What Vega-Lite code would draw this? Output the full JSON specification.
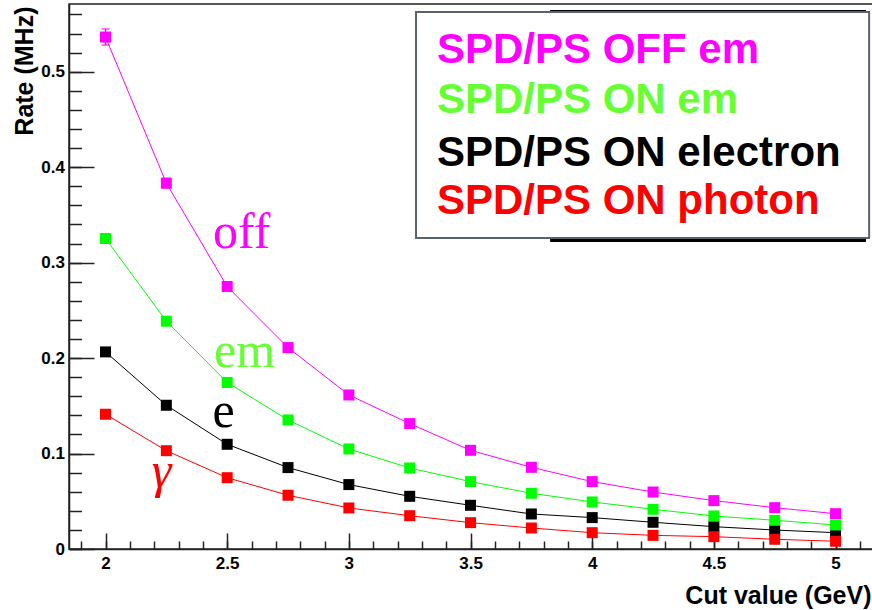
{
  "$schema": "https://vega.github.io/schema/vega-lite/v6.json",
  "width": 805,
  "height": 545,
  "autosize": {"type": "none"},
  "padding": {"left": 69, "top": 4, "right": 0, "bottom": 61},
  "background": "white",
  "config": {
    "view": {"stroke": "#222222", "strokeWidth": 1.5},
    "font": "Liberation Sans",
    "axis": {
      "labelFont": "Liberation Sans",
      "labelFontWeight": "bold",
      "labelFontSize": 17,
      "labelColor": "#000000",
      "titleFont": "Liberation Sans",
      "titleFontWeight": "bold",
      "titleFontSize": 25,
      "titleColor": "#000000",
      "domainColor": "#222222",
      "domainWidth": 1.5,
      "tickColor": "#222222",
      "tickWidth": 1.5,
      "grid": false
    }
  },
  "datasets": {
    "rates": [
      {"series": "SPD/PS ON electron", "cut": 2.0, "rate": 0.2065, "err": 0},
      {"series": "SPD/PS ON electron", "cut": 2.25, "rate": 0.1506, "err": 0},
      {"series": "SPD/PS ON electron", "cut": 2.5, "rate": 0.1097, "err": 0},
      {"series": "SPD/PS ON electron", "cut": 2.75, "rate": 0.0853, "err": 0},
      {"series": "SPD/PS ON electron", "cut": 3.0, "rate": 0.0675, "err": 0},
      {"series": "SPD/PS ON electron", "cut": 3.25, "rate": 0.0552, "err": 0},
      {"series": "SPD/PS ON electron", "cut": 3.5, "rate": 0.0458, "err": 0},
      {"series": "SPD/PS ON electron", "cut": 3.75, "rate": 0.0367, "err": 0},
      {"series": "SPD/PS ON electron", "cut": 4.0, "rate": 0.0329, "err": 0},
      {"series": "SPD/PS ON electron", "cut": 4.25, "rate": 0.028, "err": 0},
      {"series": "SPD/PS ON electron", "cut": 4.5, "rate": 0.0234, "err": 0},
      {"series": "SPD/PS ON electron", "cut": 4.75, "rate": 0.0199, "err": 0},
      {"series": "SPD/PS ON electron", "cut": 5.0, "rate": 0.0171, "err": 0},
      {"series": "SPD/PS ON photon", "cut": 2.0, "rate": 0.1412, "err": 0},
      {"series": "SPD/PS ON photon", "cut": 2.25, "rate": 0.103, "err": 0},
      {"series": "SPD/PS ON photon", "cut": 2.5, "rate": 0.0747, "err": 0},
      {"series": "SPD/PS ON photon", "cut": 2.75, "rate": 0.0563, "err": 0},
      {"series": "SPD/PS ON photon", "cut": 3.0, "rate": 0.043, "err": 0},
      {"series": "SPD/PS ON photon", "cut": 3.25, "rate": 0.0349, "err": 0},
      {"series": "SPD/PS ON photon", "cut": 3.5, "rate": 0.0276, "err": 0},
      {"series": "SPD/PS ON photon", "cut": 3.75, "rate": 0.022, "err": 0},
      {"series": "SPD/PS ON photon", "cut": 4.0, "rate": 0.0171, "err": 0},
      {"series": "SPD/PS ON photon", "cut": 4.25, "rate": 0.0143, "err": 0},
      {"series": "SPD/PS ON photon", "cut": 4.5, "rate": 0.0129, "err": 0},
      {"series": "SPD/PS ON photon", "cut": 4.75, "rate": 0.0102, "err": 0},
      {"series": "SPD/PS ON photon", "cut": 5.0, "rate": 0.0081, "err": 0},
      {"series": "SPD/PS ON em", "cut": 2.0, "rate": 0.3253, "err": 0},
      {"series": "SPD/PS ON em", "cut": 2.25, "rate": 0.2387, "err": 0},
      {"series": "SPD/PS ON em", "cut": 2.5, "rate": 0.1745, "err": 0},
      {"series": "SPD/PS ON em", "cut": 2.75, "rate": 0.1352, "err": 0},
      {"series": "SPD/PS ON em", "cut": 3.0, "rate": 0.1048, "err": 0},
      {"series": "SPD/PS ON em", "cut": 3.25, "rate": 0.0849, "err": 0},
      {"series": "SPD/PS ON em", "cut": 3.5, "rate": 0.0706, "err": 0},
      {"series": "SPD/PS ON em", "cut": 3.75, "rate": 0.0584, "err": 0},
      {"series": "SPD/PS ON em", "cut": 4.0, "rate": 0.0493, "err": 0},
      {"series": "SPD/PS ON em", "cut": 4.25, "rate": 0.0416, "err": 0},
      {"series": "SPD/PS ON em", "cut": 4.5, "rate": 0.0346, "err": 0},
      {"series": "SPD/PS ON em", "cut": 4.75, "rate": 0.0301, "err": 0},
      {"series": "SPD/PS ON em", "cut": 5.0, "rate": 0.0252, "err": 0},
      {"series": "SPD/PS OFF em", "cut": 2.0, "rate": 0.5364, "err": 0.0085},
      {"series": "SPD/PS OFF em", "cut": 2.25, "rate": 0.3833, "err": 0.005},
      {"series": "SPD/PS OFF em", "cut": 2.5, "rate": 0.275, "err": 0.004},
      {"series": "SPD/PS OFF em", "cut": 2.75, "rate": 0.211, "err": 0.003},
      {"series": "SPD/PS OFF em", "cut": 3.0, "rate": 0.1614, "err": 0.003},
      {"series": "SPD/PS OFF em", "cut": 3.25, "rate": 0.1314, "err": 0.002},
      {"series": "SPD/PS OFF em", "cut": 3.5, "rate": 0.1034, "err": 0.002},
      {"series": "SPD/PS OFF em", "cut": 3.75, "rate": 0.0856, "err": 0.002},
      {"series": "SPD/PS OFF em", "cut": 4.0, "rate": 0.0706, "err": 0.002},
      {"series": "SPD/PS OFF em", "cut": 4.25, "rate": 0.0597, "err": 0.002},
      {"series": "SPD/PS OFF em", "cut": 4.5, "rate": 0.0507, "err": 0.001},
      {"series": "SPD/PS OFF em", "cut": 4.75, "rate": 0.0433, "err": 0.001},
      {"series": "SPD/PS OFF em", "cut": 5.0, "rate": 0.037, "err": 0.001}
    ],
    "curveLabels": [
      {"label": "off", "series": "SPD/PS OFF em", "cut": 2.442, "rate": 0.3153},
      {"label": "em", "series": "SPD/PS ON em", "cut": 2.446, "rate": 0.191},
      {"label": "e", "series": "SPD/PS ON electron", "cut": 2.44, "rate": 0.1281}
    ],
    "gammaLabel": [
      {"label": "γ", "series": "SPD/PS ON photon", "cut": 2.19, "rate": 0.065}
    ],
    "legendRows": [
      {"label": "SPD/PS OFF em", "series": "SPD/PS OFF em", "cut": 3.362, "rate": 0.5092},
      {"label": "SPD/PS ON em", "series": "SPD/PS ON em", "cut": 3.362, "rate": 0.4568},
      {"label": "SPD/PS ON electron", "series": "SPD/PS ON electron", "cut": 3.362, "rate": 0.4016},
      {"label": "SPD/PS ON photon", "series": "SPD/PS ON photon", "cut": 3.362, "rate": 0.351}
    ]
  },
  "resolve": {
    "axis": {"x": "independent", "y": "independent"},
    "scale": {"color": "independent"}
  },
  "layer": [
    {
      "data": {"name": "rates"},
      "mark": {"type": "line", "strokeWidth": 1, "clip": true},
      "encoding": {
        "x": {
          "field": "cut", "type": "quantitative",
          "scale": {"domain": [1.85, 5.158], "nice": false, "zero": false},
          "axis": {
            "orient": "bottom",
            "values": [2, 2.5, 3, 3.5, 4, 4.5, 5],
            "format": "~g",
            "tickSize": -16,
            "labelPadding": 22.5,
            "title": "Cut value (GeV)",
            "titleAlign": "right",
            "titleAnchor": "end",
            "titleBaseline": "alphabetic",
            "titleX": 802,
            "titleY": 54
          }
        },
        "y": {
          "field": "rate", "type": "quantitative",
          "scale": {"domain": [0, 0.571], "nice": false, "zero": true},
          "axis": {
            "orient": "left",
            "values": [0, 0.1, 0.2, 0.3, 0.4, 0.5],
            "format": "~g",
            "tickSize": -25,
            "labelPadding": 29.5,
            "title": "Rate (MHz)",
            "titleAngle": -90,
            "titleAlign": "right",
            "titleBaseline": "alphabetic",
            "titleX": -36.5,
            "titleY": 2
          }
        },
        "color": {
          "field": "series", "type": "nominal",
          "scale": {
            "domain": ["SPD/PS OFF em", "SPD/PS ON em", "SPD/PS ON electron", "SPD/PS ON photon"],
            "range": ["#ff00ff", "#00ff00", "#000000", "#ff0000"]
          },
          "legend": null
        }
      }
    },
    {
      "data": {"name": "rates"},
      "mark": {"type": "errorbar", "ticks": {"size": 8, "thickness": 1.5}, "thickness": 1.5},
      "encoding": {
        "x": {
          "field": "cut", "type": "quantitative",
          "scale": {"domain": [1.85, 5.158], "nice": false, "zero": false},
          "axis": {
            "orient": "bottom",
            "values": [1.9, 2.0, 2.1, 2.2, 2.3, 2.4, 2.5, 2.6, 2.7, 2.8, 2.9, 3.0, 3.1, 3.2, 3.3, 3.4, 3.5, 3.6, 3.7, 3.8, 3.9, 4.0, 4.1, 4.2, 4.3, 4.4, 4.5, 4.6, 4.7, 4.8, 4.9, 5.0, 5.1],
            "tickSize": -8,
            "labels": false,
            "domain": false,
            "title": null
          }
        },
        "y": {
          "field": "rate", "type": "quantitative",
          "scale": {"domain": [0, 0.571], "nice": false, "zero": true},
          "axis": {
            "orient": "left",
            "values": [0, 0.02, 0.04, 0.06, 0.08, 0.1, 0.12, 0.14, 0.16, 0.18, 0.2, 0.22, 0.24, 0.26, 0.28, 0.3, 0.32, 0.34, 0.36, 0.38, 0.4, 0.42, 0.44, 0.46, 0.48, 0.5, 0.52, 0.54, 0.56],
            "tickSize": -12.5,
            "labels": false,
            "domain": false,
            "title": null
          }
        },
        "yError": {"field": "err"},
        "color": {
          "field": "series", "type": "nominal",
          "scale": {
            "domain": ["SPD/PS OFF em", "SPD/PS ON em", "SPD/PS ON electron", "SPD/PS ON photon"],
            "range": ["#ff00ff", "#00ff00", "#000000", "#ff0000"]
          },
          "legend": null
        }
      }
    },
    {
      "data": {"name": "rates"},
      "mark": {"type": "point", "shape": "square", "filled": true, "opacity": 1, "size": 121},
      "encoding": {
        "x": {"field": "cut", "type": "quantitative", "scale": {"domain": [1.85, 5.158], "nice": false, "zero": false}, "axis": null},
        "y": {"field": "rate", "type": "quantitative", "scale": {"domain": [0, 0.571], "nice": false, "zero": true}, "axis": null},
        "color": {
          "field": "series", "type": "nominal",
          "scale": {
            "domain": ["SPD/PS OFF em", "SPD/PS ON em", "SPD/PS ON electron", "SPD/PS ON photon"],
            "range": ["#ff00ff", "#00ff00", "#000000", "#ff0000"]
          },
          "legend": null
        }
      }
    },
    {
      "data": {"name": "curveLabels"},
      "mark": {"type": "text", "font": "Liberation Serif", "fontSize": 50, "align": "left", "baseline": "alphabetic"},
      "encoding": {
        "x": {"field": "cut", "type": "quantitative", "scale": {"domain": [1.85, 5.158], "nice": false, "zero": false}, "axis": null},
        "y": {"field": "rate", "type": "quantitative", "scale": {"domain": [0, 0.571], "nice": false, "zero": true}, "axis": null},
        "text": {"field": "label"},
        "color": {
          "field": "series", "type": "nominal",
          "scale": {
            "domain": ["SPD/PS OFF em", "SPD/PS ON em", "SPD/PS ON electron", "SPD/PS ON photon"],
            "range": ["#ff00ff", "#66ff33", "#000000", "#ff0000"]
          },
          "legend": null
        }
      }
    },
    {
      "data": {"name": "gammaLabel"},
      "mark": {"type": "text", "font": "Liberation Serif", "fontStyle": "italic", "fontSize": 50, "align": "left", "baseline": "alphabetic", "color": "#ff0000"},
      "encoding": {
        "x": {"field": "cut", "type": "quantitative", "scale": {"domain": [1.85, 5.158], "nice": false, "zero": false}, "axis": null},
        "y": {"field": "rate", "type": "quantitative", "scale": {"domain": [0, 0.571], "nice": false, "zero": true}, "axis": null},
        "text": {"field": "label"}
      }
    },
    {
      "data": {"values": [{"x0": 3.827, "x1": 5.125, "y0": 0.3216, "y1": 0.5647}]},
      "mark": {"type": "rect", "fill": "#000000"},
      "encoding": {
        "x": {"field": "x0", "type": "quantitative", "scale": {"domain": [1.85, 5.158], "nice": false, "zero": false}, "axis": null},
        "x2": {"field": "x1"},
        "y": {"field": "y0", "type": "quantitative", "scale": {"domain": [0, 0.571], "nice": false, "zero": true}, "axis": null},
        "y2": {"field": "y1"}
      }
    },
    {
      "data": {"values": [{"x0": 3.276, "x1": 5.138, "y0": 0.3258, "y1": 0.5626}]},
      "mark": {"type": "rect", "fill": "#ffffff", "stroke": "#5a6270", "strokeWidth": 2},
      "encoding": {
        "x": {"field": "x0", "type": "quantitative", "scale": {"domain": [1.85, 5.158], "nice": false, "zero": false}, "axis": null},
        "x2": {"field": "x1"},
        "y": {"field": "y0", "type": "quantitative", "scale": {"domain": [0, 0.571], "nice": false, "zero": true}, "axis": null},
        "y2": {"field": "y1"}
      }
    },
    {
      "data": {"name": "legendRows"},
      "mark": {"type": "text", "font": "Liberation Sans", "fontWeight": "bold", "fontSize": 42, "align": "left", "baseline": "alphabetic"},
      "encoding": {
        "x": {"field": "cut", "type": "quantitative", "scale": {"domain": [1.85, 5.158], "nice": false, "zero": false}, "axis": null},
        "y": {"field": "rate", "type": "quantitative", "scale": {"domain": [0, 0.571], "nice": false, "zero": true}, "axis": null},
        "text": {"field": "label"},
        "color": {
          "field": "series", "type": "nominal",
          "scale": {
            "domain": ["SPD/PS OFF em", "SPD/PS ON em", "SPD/PS ON electron", "SPD/PS ON photon"],
            "range": ["#ff00ff", "#66ff33", "#000000", "#ff0000"]
          },
          "legend": null
        }
      }
    }
  ]
}
